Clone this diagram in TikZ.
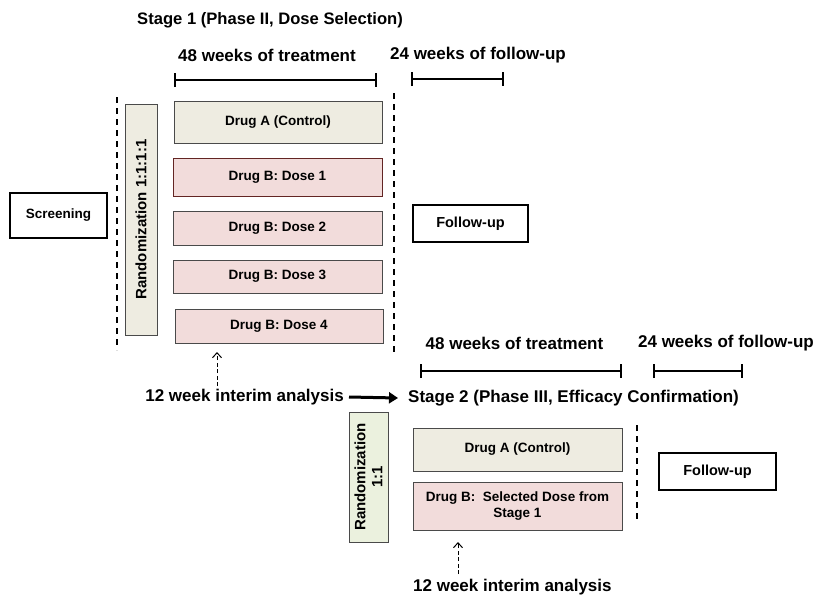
\documentclass[tikz,border=0pt]{standalone}
\usepackage{fontspec}
\setmainfont{Liberation Sans}
\usetikzlibrary{arrows.meta}
\definecolor{ctrlfill}{HTML}{EEECE1}
\definecolor{pinkfill}{HTML}{F2DCDB}
\definecolor{greenfill}{HTML}{EBF1DE}
\definecolor{boxline}{HTML}{4A4A4A}
\definecolor{redline}{HTML}{632523}
\tikzset{
  armbox/.style={draw=boxline, line width=1pt, inner sep=0pt, font=\fontsize{13.5}{15}\selectfont\bfseries, align=center},
  ctrlbox/.style={armbox, fill=ctrlfill},
  dosebox/.style={armbox, fill=pinkfill},
  plainbox/.style={draw=black, line width=1.2pt, fill=white, inner sep=0pt, font=\fontsize{13.5}{15}\selectfont\bfseries},
  fubox/.style={draw=black, line width=2pt, fill=white, inner sep=0pt, font=\fontsize{14.5}{16}\selectfont\bfseries},
  randbox/.style={draw=boxline, line width=1pt, inner sep=0pt, font=\fontsize{15}{16}\selectfont\bfseries, align=center},
  bigtext/.style={inner sep=0pt, font=\fontsize{17}{19}\selectfont\bfseries},
  period/.style={line width=2.2pt, {Bar[width=14pt]}-{Bar[width=14pt]}},
  sep/.style={line width=1.3pt, dash pattern=on 6pt off 5pt},
  interim/.style={line width=1pt, dash pattern=on 4pt off 2.5pt, -{Straight Barb[length=5pt,width=9pt]}},
}
\begin{document}
\begin{tikzpicture}[x=1pt,y=-1pt]
\useasboundingbox (0,0) rectangle (817,598);
% ---------- Stage 1 ----------
\node[bigtext, font=\fontsize{16.6}{18}\selectfont\bfseries, anchor=west] (s1title) at (137,20) {Stage 1 (Phase II, Dose Selection)};
\node[bigtext, anchor=center] (t1) at (267,55) {48 weeks of treatment};
\node[bigtext, anchor=center] (f1) at (478,55) {24 weeks of follow-up};
\coordinate (t1a) at (174,80); \coordinate (t1b) at (377,80);
\draw[period] (t1a) -- (t1b);
\coordinate (f1a) at (411,79); \coordinate (f1b) at (504,79);
\draw[period] (f1a) -- (f1b);
\coordinate (d1a) at (117,97); \coordinate (d1b) at (117,350);
\draw[sep] (d1a) -- (d1b);
\coordinate (d2a) at (394,93); \coordinate (d2b) at (394,355);
\draw[sep] (d2a) -- (d2b);
\node[plainbox, minimum width=97pt, minimum height=45pt] (screen) at (58.5,215.5) {Screening};
\node[randbox, fill=ctrlfill, minimum width=32pt, minimum height=231pt] (rand1) at (141,219.5) {};
\node[rotate=90, inner sep=0pt, font=\fontsize{15}{16}\selectfont\bfseries] (rand1t) at (141,219.5) {Randomization 1:1:1:1};
\node[ctrlbox, minimum width=208pt, minimum height=42pt] (armA) at (278,122) {Drug A (Control)};
\node[dosebox, draw=redline, minimum width=209pt, minimum height=38pt] (dose1) at (277.5,177) {Drug B: Dose 1};
\node[dosebox, minimum width=209pt, minimum height=34pt] (dose2) at (277.5,228) {Drug B: Dose 2};
\node[dosebox, minimum width=209pt, minimum height=33pt] (dose3) at (277.5,276.5) {Drug B: Dose 3};
\node[dosebox, minimum width=208pt, minimum height=34pt] (dose4) at (279,326) {Drug B: Dose 4};
\node[fubox, minimum width=115pt, minimum height=37pt] (fu1) at (470.5,223.5) {Follow-up};
% ---------- interim ----------
\node[bigtext, anchor=east] (ia1) at (344,397) {12 week interim analysis};
\coordinate (ia1up) at (217,386);
\draw[interim] (ia1up) -- (217,352);
% ---------- Stage 2 ----------
\node[bigtext, anchor=west] (s2title) at (408,398) {Stage 2 (Phase III, Efficacy Confirmation)};
\draw[line width=3pt, -{Triangle[length=9pt,width=11pt]}] ([xshift=5pt]ia1.east) -- ([xshift=-10pt]s2title.west);
\node[bigtext, anchor=center] (t2) at (514.5,343) {48 weeks of treatment};
\node[bigtext, anchor=center] (f2) at (726,343) {24 weeks of follow-up};
\coordinate (t2a) at (420,371); \coordinate (t2b) at (622,371);
\draw[period] (t2a) -- (t2b);
\coordinate (f2a) at (653,371); \coordinate (f2b) at (743,371);
\draw[period] (f2a) -- (f2b);
\node[randbox, fill=greenfill, minimum width=39pt, minimum height=130pt] (rand2) at (368.5,477) {};
\node[rotate=90, inner sep=0pt, align=center, font=\fontsize{15}{17}\selectfont\bfseries] (rand2t) at (368.5,477) {Randomization\\1:1};
\node[ctrlbox, minimum width=209pt, minimum height=43pt] (armA2) at (517.5,449.5) {Drug A (Control)};
\node[dosebox, minimum width=209pt, minimum height=48pt, font=\fontsize{13.5}{16.5}\selectfont\bfseries] (armB2) at (517.5,506) {Drug B:\ \ Selected Dose from\\Stage 1};
\coordinate (d3a) at (637,425); \coordinate (d3b) at (637,523);
\draw[sep] (d3a) -- (d3b);
\node[fubox, minimum width=117pt, minimum height=37pt] (fu2) at (717.5,471.5) {Follow-up};
\node[bigtext, anchor=west] (ia2) at (413,587) {12 week interim analysis};
\coordinate (ia2up) at (458,574);
\draw[interim] (ia2up) -- (458,542);
\end{tikzpicture}
\end{document}
